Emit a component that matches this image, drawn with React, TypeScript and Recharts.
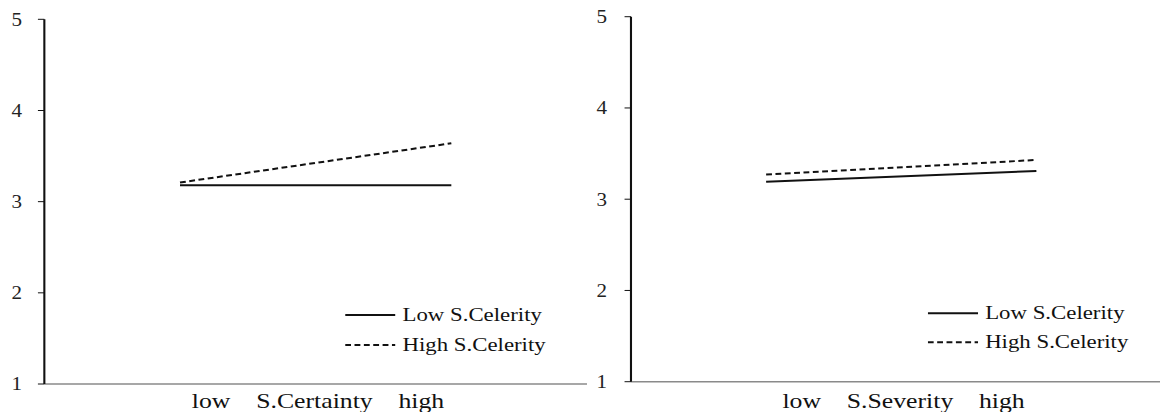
import { Legend, Line, LineChart, XAxis, YAxis } from "recharts";

// the reference image is a little wider than its fonts: draw narrower, then stretch
const STRETCH = 1.17;
const SERIF = "Liberation Serif, Tinos, DejaVu Serif, Times New Roman, serif";
const INK = "#111";
const FRAME = "#8a8a8a";

const levels = ["low", "high"];
const yTicks = [1, 2, 3, 4, 5];
const seriesKeys = ["low", "high"];
const seriesNames = ["Low S.Celerity", "High S.Celerity"];

const certaintyLow = [3.18, 3.18];
const certaintyHigh = [3.21, 3.64];
const severityLow = [3.19, 3.31];
const severityHigh = [3.27, 3.43];

function toRows(low: number[], high: number[]) {
  return levels.map((level, i) => ({ level, low: low[i], high: high[i] }));
}

const dashFor = (key: string) => (key === "high" ? "5 3" : undefined);

function SeriesLegend({ payload, rowHeight }: any) {
  const items = [...(payload ?? [])].sort(
    (a: any, b: any) => seriesKeys.indexOf(a.dataKey) - seriesKeys.indexOf(b.dataKey)
  );
  return (
    <div>
      {items.map((entry: any) => (
        <div
          key={entry.dataKey}
          style={{ display: "flex", alignItems: "center", height: rowHeight }}
        >
          <svg width={43} height={rowHeight}>
            <line
              x1={0}
              x2={43}
              y1={rowHeight / 2}
              y2={rowHeight / 2}
              stroke={INK}
              strokeWidth={2}
              strokeDasharray={dashFor(entry.dataKey)}
            />
          </svg>
          <span
            style={{
              marginLeft: 6,
              fontFamily: SERIF,
              fontSize: 19.5,
              color: INK,
              whiteSpace: "nowrap",
            }}
          >
            {entry.value}
          </span>
        </div>
      ))}
    </div>
  );
}

type PanelProps = {
  title: string;
  low: number[];
  high: number[];
  width: number;
  yAxisWidth: number;
  marginTop: number;
  marginRight: number;
  xAxisHeight: number;
  tickMargin: number;
  legendLeft: number;
  legendTop: number;
  legendRow: number;
};

function Panel(p: PanelProps) {
  const caption = `${levels[0]}\u00A0\u00A0\u00A0\u00A0${p.title}\u00A0\u00A0\u00A0\u00A0${levels[1]}`;
  return (
    <LineChart
      width={p.width}
      height={412}
      data={toRows(p.low, p.high)}
      margin={{ top: p.marginTop, right: p.marginRight, bottom: 0, left: 0 }}
    >
      <XAxis
        dataKey="level"
        scale="band"
        height={p.xAxisHeight}
        tick={false}
        tickLine={false}
        axisLine={{ stroke: FRAME, strokeWidth: 1.5 }}
        label={{
          content: (props: any) => {
            const vb = props.viewBox;
            return (
              <text
                x={vb.x + vb.width / 2 + 2}
                y={vb.y + vb.height - 4}
                textAnchor="middle"
                fontFamily={SERIF}
                fontSize={22}
                fill={INK}
              >
                {caption}
              </text>
            );
          },
        }}
      />
      <XAxis
        xAxisId="top"
        orientation="top"
        dataKey="level"
        scale="band"
        height={0}
        tick={false}
        tickLine={false}
        axisLine={{ stroke: FRAME, strokeWidth: 1.5 }}
      />
      <YAxis
        type="number"
        domain={[1, 5]}
        ticks={yTicks}
        interval={0}
        width={p.yAxisWidth}
        tickSize={5.5}
        tickMargin={p.tickMargin}
        axisLine={{ stroke: INK, strokeWidth: 1.8 }}
        tickLine={{ stroke: INK, strokeWidth: 1 }}
        tick={{ fontFamily: SERIF, fontSize: 18, fill: "#222" }}
      />
      <YAxis
        yAxisId="right"
        orientation="right"
        type="number"
        domain={[1, 5]}
        width={0}
        tick={false}
        tickLine={false}
        axisLine={{ stroke: FRAME, strokeWidth: 1.5 }}
      />
      <Legend
        layout="vertical"
        align="center"
        verticalAlign="middle"
        wrapperStyle={{ left: p.legendLeft, top: p.legendTop, width: "auto" }}
        content={(props: any) => <SeriesLegend {...props} rowHeight={p.legendRow} />}
      />
      <Line
        dataKey="low"
        name={seriesNames[0]}
        stroke={INK}
        strokeWidth={2}
        dot={false}
        activeDot={false}
        isAnimationActive={false}
      />
      <Line
        dataKey="high"
        name={seriesNames[1]}
        stroke={INK}
        strokeWidth={2}
        strokeDasharray={dashFor("high")}
        dot={false}
        activeDot={false}
        isAnimationActive={false}
      />
    </LineChart>
  );
}

export default function App() {
  return (
    <div
      style={{
        position: "absolute",
        left: 0,
        top: 0,
        width: 1160,
        height: 412,
        overflow: "hidden",
        background: "#fff",
      }}
    >
      <div
        style={{
          position: "relative",
          width: 1160 / STRETCH,
          height: 412,
          transform: `scaleX(${STRETCH})`,
          transformOrigin: "0 0",
        }}
      >
        <div style={{ position: "absolute", left: 0, top: 0 }}>
          <Panel
            title="S.Certainty"
            low={certaintyLow}
            high={certaintyHigh}
            width={505}
            yAxisWidth={37.9}
            marginTop={19.3}
            marginRight={3.3}
            xAxisHeight={28}
            tickMargin={13.6}
            legendLeft={295}
            legendTop={300}
            legendRow={30}
          />
        </div>
        <div style={{ position: "absolute", left: 500, top: 0 }}>
          <Panel
            title="S.Severity"
            low={severityLow}
            high={severityHigh}
            width={510}
            yAxisWidth={39.3}
            marginTop={16.7}
            marginRight={8.7}
            xAxisHeight={30.3}
            tickMargin={15}
            legendLeft={293}
            legendTop={299}
            legendRow={28.5}
          />
        </div>
      </div>
    </div>
  );
}
